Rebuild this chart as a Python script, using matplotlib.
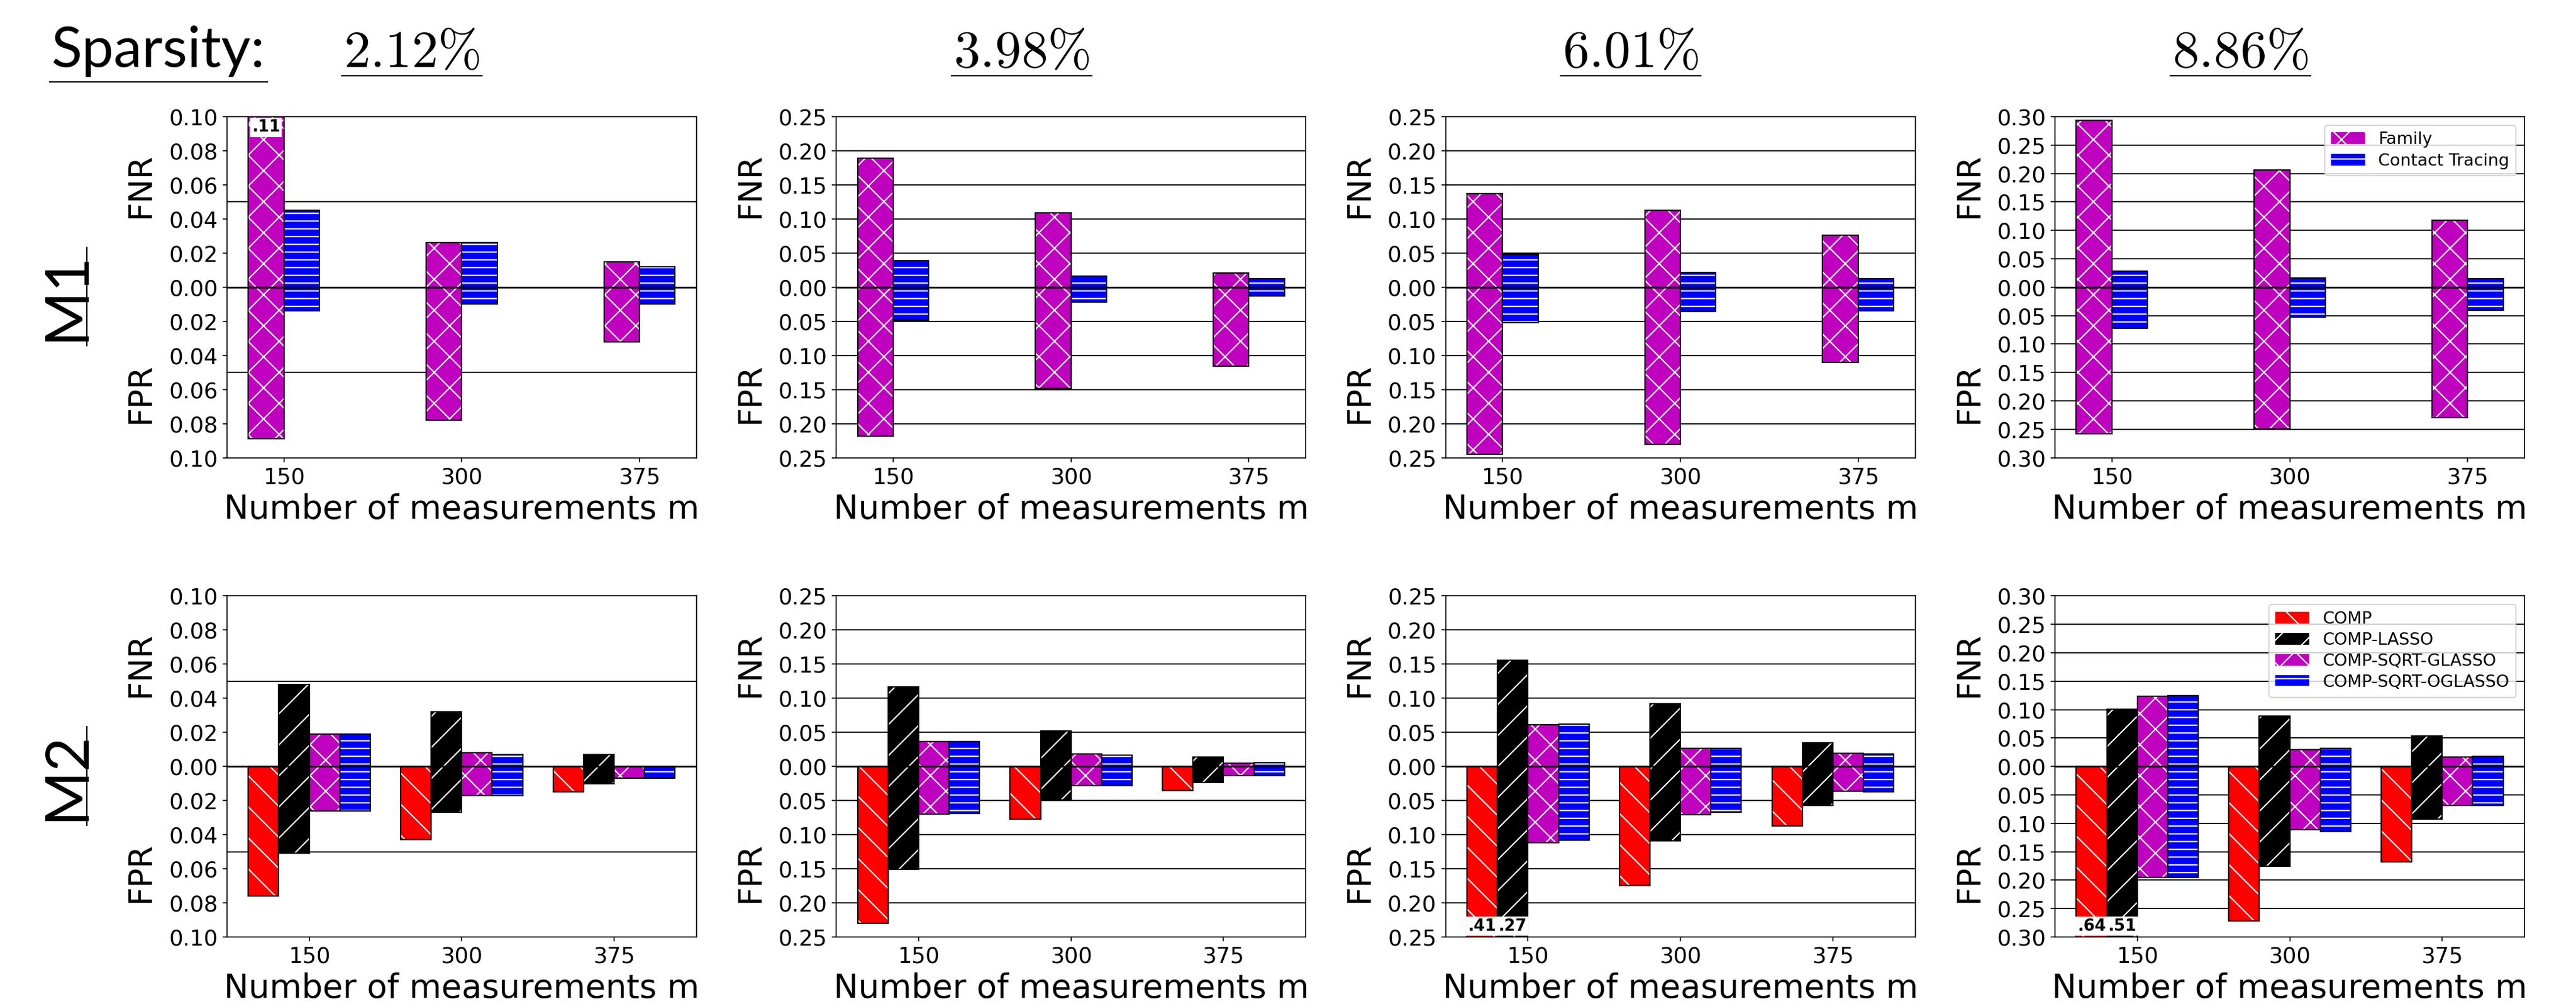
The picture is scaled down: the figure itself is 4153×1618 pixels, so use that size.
import numpy as np
import matplotlib.pyplot as plt
from matplotlib.lines import Line2D
from matplotlib.ticker import FuncFormatter, MultipleLocator

# x categories and per-column settings
m_values = ['150', '300', '375']
sparsity = ['2.12', '3.98', '6.01', '8.86']
y_limits = [0.10, 0.25, 0.25, 0.30]
y_steps = [0.02, 0.05, 0.05, 0.05]

# M1 (one inner list per sparsity level, values for m = 150, 300, 375)
family_fnr = [[0.110, 0.026, 0.015], [0.189, 0.109, 0.021], [0.137, 0.113, 0.076], [0.293, 0.206, 0.118]]
family_fpr = [[0.089, 0.078, 0.032], [0.218, 0.148, 0.116], [0.245, 0.230, 0.110], [0.258, 0.249, 0.229]]
contact_fnr = [[0.045, 0.026, 0.012], [0.039, 0.016, 0.013], [0.048, 0.022, 0.013], [0.028, 0.016, 0.015]]
contact_fpr = [[0.014, 0.010, 0.010], [0.048, 0.022, 0.013], [0.052, 0.036, 0.035], [0.072, 0.053, 0.041]]

# M2
comp_fnr = [[0.0, 0.0, 0.0], [0.0, 0.0, 0.0], [0.0, 0.0, 0.0], [0.0, 0.0, 0.0]]
comp_fpr = [[0.076, 0.043, 0.015], [0.230, 0.077, 0.035], [0.41, 0.174, 0.087], [0.64, 0.271, 0.168]]
lasso_fnr = [[0.048, 0.032, 0.007], [0.117, 0.052, 0.014], [0.156, 0.092, 0.035], [0.101, 0.089, 0.054]]
lasso_fpr = [[0.051, 0.027, 0.010], [0.151, 0.049, 0.023], [0.27, 0.109, 0.057], [0.51, 0.175, 0.092]]
glasso_fnr = [[0.019, 0.008, 0.0], [0.037, 0.018, 0.005], [0.061, 0.027, 0.019], [0.124, 0.030, 0.017]]
glasso_fpr = [[0.026, 0.017, 0.007], [0.070, 0.028, 0.013], [0.112, 0.071, 0.036], [0.195, 0.111, 0.069]]
oglasso_fnr = [[0.019, 0.007, 0.0], [0.037, 0.017, 0.006], [0.062, 0.027, 0.018], [0.125, 0.032, 0.018]]
oglasso_fpr = [[0.026, 0.017, 0.007], [0.069, 0.028, 0.013], [0.108, 0.067, 0.037], [0.195, 0.114, 0.069]]

m1_series = [
    ('Family', family_fnr, family_fpr, 'm', 'x'),
    ('Contact Tracing', contact_fnr, contact_fpr, 'b', '--'),
]
m2_series = [
    ('COMP', comp_fnr, comp_fpr, 'r', '\\'),
    ('COMP-LASSO', lasso_fnr, lasso_fpr, 'k', '/'),
    ('COMP-SQRT-GLASSO', glasso_fnr, glasso_fpr, 'm', 'x'),
    ('COMP-SQRT-OGLASSO', oglasso_fnr, oglasso_fpr, 'b', '--'),
]

plt.rcParams['hatch.linewidth'] = 1.0
plt.rcParams['font.family'] = 'DejaVu Sans'

fig, axes = plt.subplots(2, 4, figsize=(4153 / 150, 1618 / 150), dpi=150)
fig.subplots_adjust(left=0.0881, right=0.98, top=0.8838, bottom=0.0667,
                    wspace=0.298, hspace=0.405)

width = 0.2
x = np.arange(len(m_values))


def clip_label(ax, xi, v, lim, top):
    txt = f'{v:.2f}'.lstrip('0')
    ax.annotate(txt, (xi, lim if top else -lim), xytext=(0, -2 if top else 2),
                textcoords='offset points', ha='center',
                va='top' if top else 'bottom', fontsize=12.5, fontweight='bold',
                bbox=dict(facecolor='white', edgecolor='white', pad=0.8), zorder=5)


def draw_panel(ax, series, col):
    lim = y_limits[col]
    n = len(series)
    for k, (name, fnr, fpr, color, hatch) in enumerate(series):
        pos = x + (k - (n - 1) / 2) * width
        up = np.array(fnr[col])
        down = -np.array(fpr[col])
        for h, lab in ((up, name), (down, None)):
            ax.bar(pos, h, width, color=color, edgecolor='white', hatch=hatch,
                   linewidth=0, label=lab, zorder=2)
            ax.bar(pos, h, width, fill=False, edgecolor='k', linewidth=1.0, zorder=2.1)
        for xi, v in zip(pos, up):
            if v > lim:
                clip_label(ax, xi, v, lim, True)
        for xi, v in zip(pos, -down):
            if v > lim:
                clip_label(ax, xi, v, lim, False)

    for g in np.arange(-lim, lim + 1e-9, 0.05):
        if abs(g) > 1e-9 and abs(abs(g) - lim) > 1e-9:
            ax.axhline(g, color='0.1', lw=1.0, zorder=0.5)
    ax.axhline(0, color='k', lw=1.3, zorder=3)

    ax.set_ylim(-lim, lim)
    ax.yaxis.set_major_locator(MultipleLocator(y_steps[col]))
    ax.yaxis.set_major_formatter(FuncFormatter(lambda v, p: f'{abs(v):.2f}'))
    ax.set_xticks(x, m_values)
    ax.tick_params(labelsize=17)
    ax.set_xlabel('Number of measurements m', fontsize=25.5)
    ax.text(-0.183, 0.80, 'FNR', transform=ax.transAxes, rotation=90,
            ha='center', va='center', fontsize=25)
    ax.text(-0.183, 0.19, 'FPR', transform=ax.transAxes, rotation=90,
            ha='center', va='center', fontsize=25)


for col in range(4):
    draw_panel(axes[0, col], m1_series, col)
    draw_panel(axes[1, col], m2_series, col)

axes[0, 3].legend(loc='upper right', fontsize=13, labelspacing=0.3)
axes[1, 3].legend(loc='upper right', fontsize=13, labelspacing=0.3)

# headers
W, H = fig.get_size_inches() * fig.dpi
base_y = 1 - 108 / H
heads = [fig.text(83 / W, base_y, 'Sparsity:', family='Lato', weight='normal',
                  fontsize=44, ha='left', va='baseline')]
for col, s in enumerate(sparsity):
    p = axes[0, col].get_position()
    cx = (p.x0 + p.x1) / 2 - 80 / W
    heads.append(fig.text(cx, base_y, r'$%s\%%$' % s, math_fontfamily='cm',
                          fontsize=41, ha='center', va='baseline'))

rows = []
for r, name in enumerate(['M1', 'M2']):
    p = axes[r, 0].get_position()
    cy = (p.y0 + p.y1) / 2 - 15 / H
    rows.append(fig.text(135 / W, cy, name, family='Lato', weight='normal',
                         fontsize=46, rotation=90, rotation_mode='anchor',
                         ha='center', va='baseline'))

fig.canvas.draw()
inv = fig.transFigure.inverted()


def underline(t, gap, vertical=False):
    bb = t.get_window_extent()
    px, py = fig.transFigure.transform(t.get_position())
    if vertical:
        pts = [(px + gap, bb.y0 - 7), (px + gap, bb.y1 + 7)]
    else:
        pts = [(bb.x0 - 3, py - gap), (bb.x1 + 3, py - gap)]
    pts = inv.transform(pts)
    fig.add_artist(Line2D(pts[:, 0], pts[:, 1], color='k', lw=1.1,
                          transform=fig.transFigure))


underline(heads[0], 24)
for t in heads[1:]:
    underline(t, 14)
for t in rows:
    underline(t, 5, vertical=True)

fig.savefig('out.png', dpi=150)
